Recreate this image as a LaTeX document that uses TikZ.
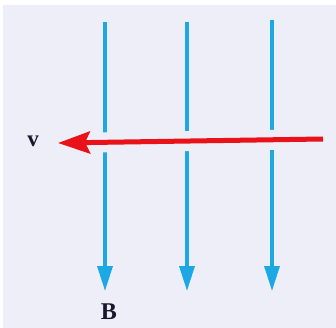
\documentclass[tikz,border=0pt]{standalone}
\usepackage{fontspec}
\setmainfont{Liberation Serif}
\usetikzlibrary{arrows.meta}
\definecolor{bgc}{RGB}{238,238,248}
\definecolor{fieldblue}{RGB}{28,168,228}
\definecolor{velred}{RGB}{232,18,24}
\definecolor{inkc}{RGB}{24,24,44}
\tikzset{
  fieldline/.style={draw=fieldblue, line width=3.4pt, -{Triangle[length=25pt,width=15pt]}},
  velarrow/.style={draw=velred, line width=5pt, -{Stealth[length=32pt,width=22pt,inset=5pt]}},
  gapline/.style={draw=bgc, line width=20pt},
  lbl/.style={text=inkc, inner sep=0pt}
}
\begin{document}
\begin{tikzpicture}[x=1pt,y=-1pt]
\useasboundingbox (0,0) rectangle (336,328);
\fill[white] (0,0) rectangle (336,328);
\fill[bgc] (3,5) rectangle (336,328);
% field lines
\coordinate (t1) at (105,22);
\coordinate (t2) at (187,22);
\coordinate (t3) at (272,20);
\coordinate (b1) at (105,291);
\coordinate (b2) at (187,291);
\coordinate (b3) at (272,291);
\draw[fieldline] (t1) -- (b1);
\draw[fieldline] (t2) -- (b2);
\draw[fieldline] (t3) -- (b3);
% velocity arrow
\coordinate (vs) at (323,139);
\coordinate (ve) at (58,143);
\draw[gapline] (330,139) -- (90,142.5);
\draw[velarrow] (vs) -- (ve);
\node[lbl] (v) at (33,141) {\fontsize{23}{23}\selectfont\bfseries v};
\node[lbl] (B) at (109,312) {\fontsize{24}{24}\selectfont\bfseries B};
\end{tikzpicture}
\end{document}
